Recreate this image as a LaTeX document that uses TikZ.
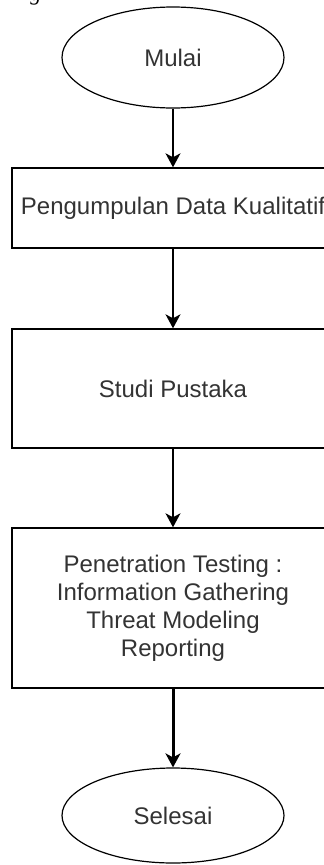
\documentclass[tikz,border=0pt]{standalone}
\usepackage{fontspec}
\setmainfont{Liberation Sans}
\newfontfamily\serifcap{Liberation Serif}
\usetikzlibrary{shapes.geometric,arrows.meta}

\tikzset{
  label text/.style={text=black!80, font=\fontsize{24}{28}\selectfont, align=center},
  terminal/.style={ellipse, draw=black, line width=1.2pt, minimum width=222pt,
                   inner sep=0pt, label text},
  process/.style={rectangle, draw=black, line width=1.4pt, minimum width=322pt,
                  inner sep=0pt, label text},
  flow/.style={draw=black, line width=1.5pt,
               -{Stealth[length=14pt,width=15pt,inset=4pt]}},
  flow bold/.style={flow, line width=3pt}
}

\begin{document}
\begin{tikzpicture}[x=1pt, y=-1pt]
  \useasboundingbox (0,0) rectangle (324,865);
  \clip (0,0) rectangle (324,865);

  % descender of the caption line above, cut by the top edge
  \node[anchor=base, inner sep=0pt, font=\serifcap\itshape\fontsize{22}{22}\selectfont]
    (capfrag) at (36,0.5) {g};

  % flow chart nodes
  \node[terminal, minimum height=101pt] (mulai) at (173,57.5) {Mulai};
  \node[process, minimum height=80pt] (kualitatif) at (173,208)
    {Pengumpulan Data Kualitatif};
  \node[process, minimum height=119pt] (pustaka) at (173,388.5) {Studi Pustaka};
  \node[process, minimum height=160pt] (pentest) at (173,608)
    {Penetration Testing :\\Information Gathering\\Threat Modeling\\Reporting};
  \node[terminal, minimum height=95pt] (selesai) at (173,815.5) {Selesai};

  % connectors
  \draw[flow] (mulai) -- (kualitatif);
  \draw[flow] (kualitatif) -- (pustaka);
  \draw[flow] (pustaka) -- (pentest);
  \draw[flow bold] (pentest) -- (selesai);
\end{tikzpicture}
\end{document}
